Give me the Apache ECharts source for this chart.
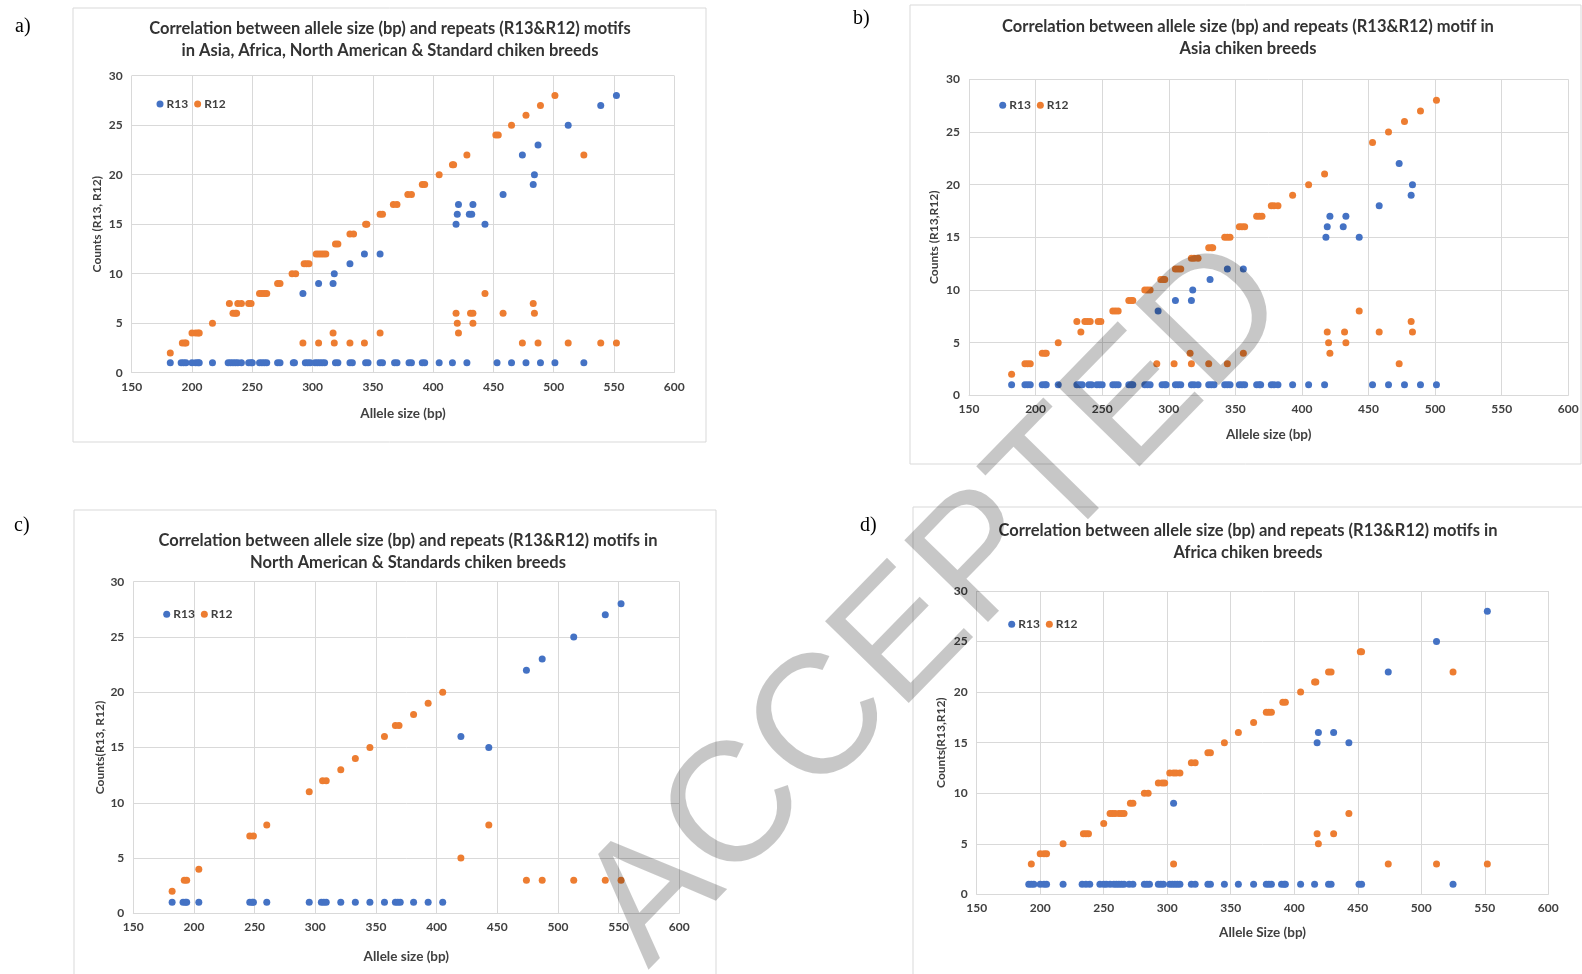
<!DOCTYPE html>
<html><head><meta charset="utf-8">
<script src="https://cdn.jsdelivr.net/npm/echarts@6/dist/echarts.min.js"></script>
<style>html,body{margin:0;padding:0;background:#fff;}#c{width:1582px;height:974px;}</style>
</head><body><div id="c"></div>
<script>
// ---------- DATA ----------
const seriesNames = ['R13', 'R12'];
const xMin = 150, xMax = 600, xStep = 50;
const yMin = 0, yMax = 30, yStep = 5;

const titlesA = ['Correlation between allele size (bp) and repeats (R13&R12) motifs', 'in Asia, Africa, North American & Standard chiken breeds'];
const titlesB = ['Correlation between allele size (bp) and repeats (R13&R12) motif in', 'Asia chiken breeds'];
const titlesC = ['Correlation between allele size (bp) and repeats (R13&R12) motifs in', 'North American & Standards chiken breeds'];
const titlesD = ['Correlation between allele size (bp) and repeats (R13&R12) motifs in', 'Africa chiken breeds'];
const panelLabels = ['a)', 'b)', 'c)', 'd)'];
const xNames = ['Allele size (bp)', 'Allele size (bp)', 'Allele size (bp)', 'Allele Size (bp)'];
const yNames = ['Counts (R13, R12)', 'Counts (R13,R12)', 'Counts(R13, R12)', 'Counts(R13,R12)'];
const watermarkText = 'ACCEPTED';

// Panel a (all breeds)
const aR13Ones = [182,191,193,195,200,203,205,206,217,230,232,234,236,238,241,247,249,250,256,258,260,262,271,273,284,285,294,296,298,302,304,306,308,310,319,321,331,333,344,346,356,358,368,370,380,382,391,393,405,416,428,453,465,477,489,501,525];
const aR13Other = [[292,8],[305,9],[317,9],[318,10],[331,11],[343,12],[356,12],[419,15],[420,16],[421,17],[430,16],[432,16],[433,17],[443,15],[458,18],[474,22],[487,23],[483,19],[484,20],[512,25],[539,27],[552,28]];
const aR12 = [[182,2],[192,3],[194,3],[195,3],[200,4],[203,4],[205,4],[206,4],[217,5],[231,7],[234,6],[236,6],[237,6],[238,7],[241,7],[247,7],[249,7],[256,8],[258,8],[260,8],[262,8],[271,9],[273,9],[283,10],[286,10],[293,11],[295,11],[297,11],[303,12],[305,12],[307,12],[309,12],[311,12],[319,13],[321,13],[331,14],[334,14],[344,15],[345,15],[356,16],[358,16],[367,17],[370,17],[379,18],[382,18],[391,19],[393,19],[405,20],[416,21],[417,21],[428,22],[452,24],[454,24],[465,25],[477,26],[489,27],[501,28],[525,22],
  [292,3],[305,3],[317,4],[318,3],[331,3],[343,3],[356,4],[419,6],[420,5],[421,4],[431,6],[433,6],[433,5],[443,8],[458,6],[483,7],[484,6],[474,3],[487,3],[512,3],[539,3],[552,3]];

// Panel b (Asia)
const bR13Ones = [182,192,194,196,205,207,208,217,231,233,235,240,242,246,248,250,258,260,262,270,272,273,282,284,286,295,297,298,305,307,309,317,319,322,330,332,334,342,344,346,353,355,357,366,368,369,377,379,382,393,405,417,453,465,477,489,501];
const bR13Other = [[292,8],[305,9],[317,9],[318,10],[331,11],[344,12],[356,12],[418,15],[419,16],[421,17],[431,16],[433,17],[443,15],[458,18],[473,22],[482,19],[483,20]];
const bR12 = [[182,2],[192,3],[194,3],[196,3],[205,4],[207,4],[208,4],[217,5],[231,7],[234,6],[237,7],[239,7],[241,7],[247,7],[249,7],[258,8],[260,8],[262,8],[270,9],[272,9],[273,9],[282,10],[284,10],[286,10],[294,11],[296,11],[297,11],[305,12],[307,12],[309,12],[317,13],[319,13],[322,13],[330,14],[332,14],[333,14],[342,15],[344,15],[346,15],[353,16],[355,16],[357,16],[366,17],[368,17],[370,17],[377,18],[379,18],[382,18],[393,19],[405,20],[417,21],[453,24],[465,25],[477,26],[489,27],[501,28],
  [291,3],[304,3],[316,4],[317,3],[330,3],[344,3],[356,4],[419,6],[420,5],[421,4],[432,6],[433,5],[443,8],[458,6],[473,3],[482,7],[483,6]];

// Panel c (North American & Standard)
const cR13Ones = [182,191,193,194,204,246,248,249,260,295,305,307,309,321,333,345,357,366,368,370,381,393,405];
const cR13Other = [[420,16],[443,15],[474,22],[487,23],[513,25],[539,27],[552,28]];
const cR12 = [[182,2],[192,3],[194,3],[204,4],[246,7],[249,7],[260,8],[295,11],[306,12],[309,12],[321,13],[333,14],[345,15],[357,16],[366,17],[369,17],[381,18],[393,19],[405,20],[420,5],[443,8],[474,3],[487,3],[513,3],[539,3],[552,3]];

// Panel d (Africa)
const dR13Ones = [191,193,195,200,203,205,218,233,236,239,247,250,252,255,258,260,262,264,266,270,273,282,284,286,293,295,297,302,304,306,308,310,319,322,332,334,345,356,368,378,380,382,390,392,393,405,416,427,429,451,453,525];
const dR13Other = [[305,9],[418,15],[419,16],[431,16],[443,15],[474,22],[512,25],[552,28]];
const dR12 = [[193,3],[200,4],[203,4],[205,4],[218,5],[234,6],[236,6],[238,6],[250,7],[255,8],[257,8],[259,8],[262,8],[264,8],[266,8],[271,9],[273,9],[282,10],[285,10],[293,11],[296,11],[298,11],[302,12],[305,12],[307,12],[310,12],[319,13],[322,13],[332,14],[334,14],[345,15],[356,16],[368,17],[378,18],[380,18],[382,18],[391,19],[393,19],[405,20],[416,21],[417,21],[427,22],[429,22],[452,24],[453,24],[525,22],
  [305,3],[443,8],[418,6],[431,6],[419,5],[474,3],[512,3],[552,3]];

// ---------- LAYOUT / STYLE ----------
const BLUE = '#4472C4', ORANGE = '#ED7D31', GRID = '#d9d9d9', TXT = '#404040';
const FONT = 'Lato';
const panels = [
  {grid:{left:131.7, top:75.7, width:542.6, height:297}, box:[73,8,633,434], titles:titlesA, tx:390, ty:18, xGap:34, yGap:29, legend:[156.5,98], label:[15,17],
   r13: aR13Ones.map(x=>[x,1]).concat(aR13Other), r12: aR12},
  {grid:{left:969, top:79.3, width:599.3, height:316}, box:[910,5,671,459], titles:titlesB, tx:1248, ty:16, xGap:32, yGap:29, legend:[999.2,99.3], label:[853,9],
   r13: bR13Ones.map(x=>[x,1]).concat(bR13Other), r12: bR12},
  {grid:{left:133.3, top:581.7, width:546, height:331.7}, box:[74,510,642,470], titles:titlesC, tx:408, ty:530, xGap:36, yGap:27, legend:[163.2,608.3], label:[14,516],
   r13: cR13Ones.map(x=>[x,1]).concat(cR13Other), r12: cR12},
  {grid:{left:976.7, top:591, width:571.6, height:303.3}, box:[913,507,671,470], titles:titlesD, tx:1248, ty:520, xGap:31, yGap:30, legend:[1008.2,618.3], label:[860,516],
   r13: dR13Ones.map(x=>[x,1]).concat(dR13Other), r12: dR12}
];

const option = {
  animation: false,
  backgroundColor: '#fff',
  textStyle: {fontFamily: FONT},
  grid: [], xAxis: [], yAxis: [], series: [], title: [], legend: [], graphic: []
};

panels.forEach((p, i) => {
  option.grid.push(Object.assign({containLabel:false}, p.grid));
  option.xAxis.push({
    type:'value', gridIndex:i, min:xMin, max:xMax, interval:xStep,
    name: xNames[i], nameLocation:'middle', nameGap:p.xGap,
    nameTextStyle:{fontFamily:FONT, fontSize:13.5, fontWeight:'bold', color:TXT},
    axisLine:{show:true, lineStyle:{color:GRID}}, axisTick:{show:false},
    axisLabel:{fontFamily:FONT, fontSize:12, fontWeight:'bold', color:TXT, margin:8},
    splitLine:{show:true, lineStyle:{color:GRID, width:1}}
  });
  option.yAxis.push({
    type:'value', gridIndex:i, min:yMin, max:yMax, interval:yStep,
    name: yNames[i], nameLocation:'middle', nameGap:p.yGap, nameRotate:90,
    nameTextStyle:{fontFamily:FONT, fontSize:12, fontWeight:'bold', color:TXT},
    axisLine:{show:false}, axisTick:{show:false},
    axisLabel:{fontFamily:FONT, fontSize:12, fontWeight:'bold', color:TXT, margin:9},
    splitLine:{show:true, lineStyle:{color:GRID, width:1}}
  });
  option.series.push({name:seriesNames[0], type:'scatter', xAxisIndex:i, yAxisIndex:i, data:p.r13, symbolSize:7, itemStyle:{color:BLUE, opacity:1}, z:3});
  option.series.push({name:seriesNames[1], type:'scatter', xAxisIndex:i, yAxisIndex:i, data:p.r12, symbolSize:7, itemStyle:{color:ORANGE, opacity:1}, z:4});
  option.title.push({
    text: p.titles.join('\n'), left: p.tx, top: p.ty, textAlign:'center', padding:0,
    textStyle:{fontFamily:FONT, fontSize:16.5, fontWeight:'bold', color:'#333', lineHeight:21.5}
  });
  option.legend.push({
    data: seriesNames, left:p.legend[0], top:p.legend[1], orient:'horizontal', padding:0,
    icon:'circle', itemWidth:7, itemHeight:7, itemGap:6,
    textStyle:{fontFamily:FONT, fontSize:12, fontWeight:'bold', color:TXT, padding:[0,0,0,-2]},
    selectedMode:false
  });
  option.graphic.push({type:'rect', shape:{x:p.box[0], y:p.box[1], width:p.box[2], height:p.box[3]}, style:{fill:null, stroke:GRID, lineWidth:1}, z:-1, silent:true});
  option.graphic.push({type:'text', x:p.label[0], y:p.label[1], style:{text:panelLabels[i], font:'20px "Liberation Serif"', fill:'#000'}, silent:true});
});

option.graphic.push({
  type:'text', x:938, y:606, rotation: 45.7*Math.PI/180, z:100, silent:true,
  style:{text:watermarkText, font:'170px "Liberation Sans"', fill:'rgba(0,0,0,0.22)', textAlign:'center', textVerticalAlign:'middle'}
});

const chart = echarts.init(document.getElementById('c'));
chart.setOption(option);
</script>
</body></html>
